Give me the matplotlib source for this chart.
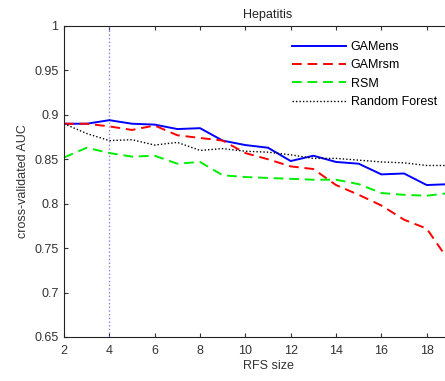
import matplotlib
matplotlib.use("Agg")
import matplotlib.pyplot as plt
from matplotlib.ticker import FuncFormatter

plt.rcParams['font.family'] = ['Liberation Sans', 'DejaVu Sans']

# RFS size (x axis)
rfs_size = [2, 3, 4, 5, 6, 7, 8, 9, 10, 11, 12, 13, 14, 15, 16, 17, 18, 19]

# cross-validated AUC per method
gamens = [0.890, 0.890, 0.894, 0.890, 0.889, 0.884, 0.885, 0.871, 0.866, 0.863,
          0.848, 0.854, 0.847, 0.845, 0.833, 0.834, 0.821, 0.822]
gamrsm = [0.890, 0.890, 0.887, 0.883, 0.888, 0.877, 0.874, 0.871, 0.857, 0.850,
          0.842, 0.839, 0.821, 0.810, 0.798, 0.782, 0.772, 0.735]
rsm = [0.852, 0.863, 0.857, 0.853, 0.854, 0.845, 0.847, 0.832, 0.830, 0.829,
       0.828, 0.827, 0.827, 0.822, 0.812, 0.810, 0.809, 0.812]
random_forest = [0.890, 0.879, 0.871, 0.872, 0.866, 0.869, 0.860, 0.862, 0.859, 0.858,
                 0.855, 0.851, 0.851, 0.849, 0.847, 0.846, 0.843, 0.843]

chosen_size = 4

fig = plt.figure(figsize=(4.45, 3.81), dpi=100)
# the axes runs past the right edge, as in the cropped reference
ax = fig.add_axes([0.1438, 0.1155, 0.917, 0.8163])

ax.axvline(chosen_size, color='#8080ff', linestyle=':', linewidth=1)
ax.plot(rfs_size, gamens, color='#0000ff', linestyle='-', linewidth=1.4, label='GAMens')
ax.plot(rfs_size, gamrsm, color='#ff0000', linestyle=(0, (5, 3)), linewidth=1.4, label='GAMrsm')
ax.plot(rfs_size, rsm, color='#00ee00', linestyle=(0, (5, 3)), linewidth=1.4, label='RSM')
ax.plot(rfs_size, random_forest, color='black', linestyle=(0, (1, 1.5)), linewidth=1, label='Random Forest')

ax.set_xlim(2, 20)
ax.set_ylim(0.65, 1)
ax.set_xticks(range(2, 19, 2))
ax.set_yticks([0.65, 0.7, 0.75, 0.8, 0.85, 0.9, 0.95, 1])
ax.yaxis.set_major_formatter(FuncFormatter(lambda v, p: '%g' % round(v, 2)))
ax.tick_params(direction='in', top=True, right=True, labelsize=9, colors='#333333',
               length=3, pad=4)
ax.tick_params(axis='x', pad=6)
for s in ax.spines.values():
    s.set_color('#222222')
    s.set_linewidth(0.8)

ax.set_title('Hepatitis', fontsize=9, color='#222222', pad=6)
ax.set_xlabel('RFS size', fontsize=9, color='#333333', labelpad=2)
ax.set_ylabel('cross-validated AUC', fontsize=9, color='#333333', labelpad=4)

fig.legend(loc='upper left', bbox_to_anchor=(0.645, 0.905), frameon=False, fontsize=9,
           handlelength=4.3, handletextpad=0.4, labelspacing=0.5, borderaxespad=0)

fig.savefig('out.png', dpi=100)
